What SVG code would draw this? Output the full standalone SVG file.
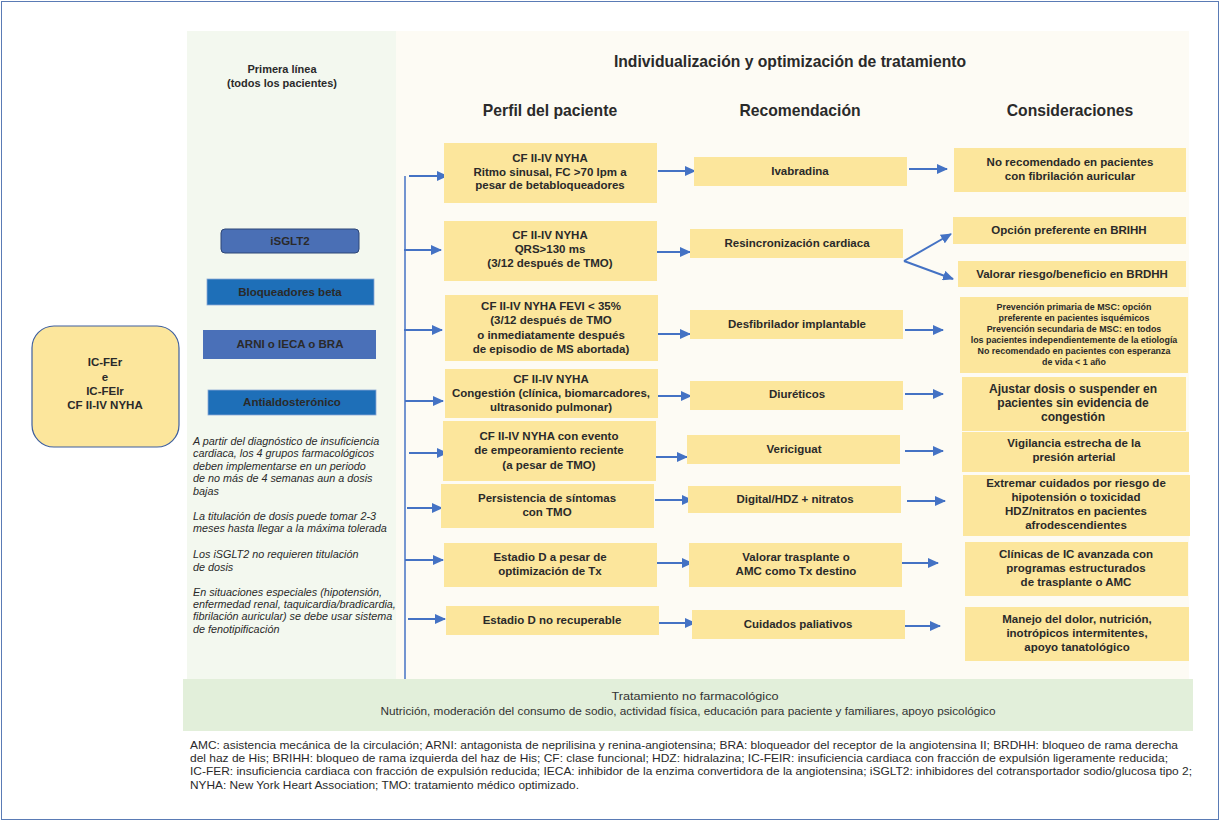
<svg xmlns="http://www.w3.org/2000/svg" width="1220" height="821" viewBox="0 0 1220 821">
<style>
text{font-family:"Liberation Sans",Arial,sans-serif;fill:#2a2a2a}
.b{font-weight:bold;font-size:11px;text-anchor:middle}
.box{fill:#fce69c}
.t{font-size:11.5px;font-weight:bold;text-anchor:middle}
.s{font-size:8.9px;font-weight:bold;text-anchor:middle}
.h{font-size:15.7px;font-weight:bold;text-anchor:middle}
.it{font-size:10.8px;font-style:italic;fill:#3a3a3a}
.arr{stroke:#4472c4;stroke-width:2;fill:none;marker-end:url(#ah)}
.fn{font-size:11px;fill:#333}
.nf{font-size:11px;fill:#333;text-anchor:middle}
</style>
<defs>
<marker id="ah" markerUnits="userSpaceOnUse" markerWidth="12" markerHeight="10" refX="10" refY="5" orient="auto">
<path d="M0,0 L11,5 L0,10 Z" fill="#4472c4"/>
</marker>
</defs>
<rect x="1.5" y="1.5" width="1217" height="818" fill="#fff" stroke="#5a7bb5" stroke-width="1"/>
<g id="panels">
<rect x="187" y="31" width="210" height="648" fill="#f3f8ef"/>
<rect x="396" y="31" width="793" height="648" fill="#fdfbf4"/>
<rect x="183" y="679" width="1010" height="52" fill="#e2efda"/>
</g>
<g id="headers">
<text class="b" x="282" y="73">Primera línea</text>
<text class="b" x="282" y="87">(todos los pacientes)</text>
<text class="h" x="790" y="67">Individualización y optimización de tratamiento</text>
<text class="h" x="550" y="116">Perfil del paciente</text>
<text class="h" x="800" y="116">Recomendación</text>
<text class="h" x="1070" y="116">Consideraciones</text>
</g>
<g id="start">
<rect x="32" y="326" width="147" height="121" rx="22" fill="#fce69c" stroke="#3e5f9e" stroke-width="1.2"/>
<text class="t" x="105" y="366">IC-FEr</text>
<text class="t" x="105" y="381">e</text>
<text class="t" x="105" y="395">IC-FElr</text>
<text class="t" x="105" y="409">CF II-IV NYHA</text>
</g>
<g id="first-line">
<g id="isglt2"><rect x="221" y="229" width="138" height="24" rx="4" fill="#4a6fb5" stroke="#2d4677" stroke-width="1"/><text class="t" x="290" y="245" fill="#1f2737">iSGLT2</text></g>
<g id="bloq"><rect x="207" y="279" width="167" height="26" fill="#1e6fb8" stroke="#8aa8d6" stroke-width="0.8"/><text class="t" x="290" y="296" fill="#1f2737">Bloqueadores beta</text></g>
<g id="arni"><rect x="203" y="330" width="173" height="29" fill="#4a70b8"/><text class="t" x="290" y="348" fill="#1f2737">ARNI o IECA o BRA</text></g>
<g id="antial"><rect x="208" y="390" width="168" height="25" fill="#1e6fb8" stroke="#8aa8d6" stroke-width="0.8"/><text class="t" x="292" y="406" fill="#1f2737">Antialdosterónico</text></g>
</g>
<g id="notes" class="it">
<text x="193" y="445">A partir del diagnóstico de insuficiencia</text>
<text x="193" y="457">cardiaca, los 4 grupos farmacológicos</text>
<text x="193" y="470">deben implementarse en un periodo</text>
<text x="193" y="482">de no más de 4 semanas aun a dosis</text>
<text x="193" y="495">bajas</text>
<text x="193" y="520">La titulación de dosis puede tomar 2-3</text>
<text x="193" y="532">meses hasta llegar a la máxima tolerada</text>
<text x="193" y="558">Los iSGLT2 no requieren titulación</text>
<text x="193" y="571">de dosis</text>
<text x="193" y="596">En situaciones especiales (hipotensión,</text>
<text x="193" y="608">enfermedad renal, taquicardia/bradicardia,</text>
<text x="193" y="620">fibrilación auricular) se debe usar sistema</text>
<text x="193" y="633">de fenotipificación</text>
</g>
<g id="connectors">
<line x1="405" y1="176" x2="405" y2="679" stroke="#4472c4" stroke-width="1.5"/>
<line class="arr" x1="409" y1="176" x2="447" y2="176"/>
<line class="arr" x1="404" y1="250" x2="441" y2="250"/>
<line class="arr" x1="404" y1="330" x2="442" y2="330"/>
<line class="arr" x1="405" y1="401" x2="443" y2="401"/>
<line class="arr" x1="409" y1="453" x2="447" y2="453"/>
<line class="arr" x1="407" y1="508" x2="442" y2="508"/>
<line class="arr" x1="405" y1="560" x2="443" y2="560"/>
<line class="arr" x1="408" y1="619" x2="445" y2="619"/>
<line class="arr" x1="658" y1="171" x2="695" y2="171"/>
<line class="arr" x1="653" y1="252" x2="690" y2="252"/>
<line class="arr" x1="654" y1="334" x2="690" y2="334"/>
<line class="arr" x1="655" y1="396" x2="691" y2="396"/>
<line class="arr" x1="649" y1="457" x2="687" y2="457"/>
<line class="arr" x1="655" y1="500" x2="692" y2="500"/>
<line class="arr" x1="654" y1="563" x2="692" y2="563"/>
<line class="arr" x1="657" y1="623" x2="695" y2="623"/>
<line class="arr" x1="909" y1="169" x2="947" y2="169"/>
<line class="arr" x1="904" y1="261" x2="951" y2="234"/>
<line class="arr" x1="904" y1="261" x2="953" y2="279"/>
<line class="arr" x1="905" y1="330" x2="943" y2="330"/>
<line class="arr" x1="905" y1="394" x2="943" y2="394"/>
<line class="arr" x1="905" y1="451" x2="943" y2="451"/>
<line class="arr" x1="907" y1="501" x2="945" y2="501"/>
<line class="arr" x1="901" y1="563" x2="938" y2="563"/>
<line class="arr" x1="902" y1="626" x2="940" y2="626"/>
</g>
<g id="p1"><rect class="box" x="444" y="143" width="213" height="60"/><text class="t" x="550" y="162">CF II-IV NYHA</text><text class="t" x="550" y="176">Ritmo sinusal, FC &gt;70 lpm a</text><text class="t" x="550" y="189">pesar de betabloqueadores</text></g>
<g id="p2"><rect class="box" x="444" y="221" width="213" height="60"/><text class="t" x="550" y="239">CF II-IV NYHA</text><text class="t" x="550" y="253">QRS&gt;130 ms</text><text class="t" x="550" y="267">(3/12 después de TMO)</text></g>
<g id="p3"><rect class="box" x="445" y="295" width="213" height="66"/><text class="t" x="551" y="310">CF II-IV NYHA FEVI &lt; 35%</text><text class="t" x="551" y="324">(3/12 después de TMO</text><text class="t" x="551" y="339">o inmediatamente después</text><text class="t" x="551" y="353">de episodio de MS abortada)</text></g>
<g id="p4"><rect class="box" x="445" y="369" width="213" height="49"/><text class="t" x="551" y="383">CF II-IV NYHA</text><text class="t" x="551" y="397">Congestión (clínica, biomarcadores,</text><text class="t" x="551" y="411">ultrasonido pulmonar)</text></g>
<g id="p5"><rect class="box" x="443" y="421" width="213" height="60"/><text class="t" x="549" y="440">CF II-IV NYHA con evento</text><text class="t" x="549" y="454">de empeoramiento reciente</text><text class="t" x="549" y="469">(a pesar de TMO)</text></g>
<g id="p6"><rect class="box" x="441" y="484" width="213" height="44"/><text class="t" x="547" y="502">Persistencia de síntomas</text><text class="t" x="547" y="516">con TMO</text></g>
<g id="p7"><rect class="box" x="444" y="543" width="213" height="44"/><text class="t" x="550" y="561">Estadio D a pesar de</text><text class="t" x="550" y="575">optimización de Tx</text></g>
<g id="p8"><rect class="box" x="446" y="606" width="213" height="29"/><text class="t" x="552" y="624">Estadio D no recuperable</text></g>
<g id="r1"><rect class="box" x="694" y="157" width="213" height="29"/><text class="t" x="800" y="175">Ivabradina</text></g>
<g id="r2"><rect class="box" x="690" y="229" width="213" height="29"/><text class="t" x="797" y="247">Resincronización cardiaca</text></g>
<g id="r3"><rect class="box" x="690" y="310" width="213" height="29"/><text class="t" x="797" y="328">Desfibrilador implantable</text></g>
<g id="r4"><rect class="box" x="690" y="381" width="213" height="29"/><text class="t" x="797" y="398">Diuréticos</text></g>
<g id="r5"><rect class="box" x="687" y="435" width="213" height="29"/><text class="t" x="794" y="453">Vericiguat</text></g>
<g id="r6"><rect class="box" x="688" y="486" width="213" height="27"/><text class="t" x="795" y="503">Digital/HDZ + nitratos</text></g>
<g id="r7"><rect class="box" x="689" y="543" width="213" height="44"/><text class="t" x="796" y="561">Valorar trasplante o</text><text class="t" x="796" y="575">AMC como Tx destino</text></g>
<g id="r8"><rect class="box" x="692" y="610" width="213" height="29"/><text class="t" x="798" y="628">Cuidados paliativos</text></g>
<g id="c1"><rect class="box" x="954" y="148" width="232" height="44"/><text class="t" x="1070" y="166">No recomendado en pacientes</text><text class="t" x="1070" y="180">con fibrilación auricular</text></g>
<g id="c2a"><rect class="box" x="953" y="217" width="233" height="27"/><text class="t" x="1069" y="234">Opción preferente en BRIHH</text></g>
<g id="c2b"><rect class="box" x="958" y="261" width="228" height="26"/><text class="t" x="1072" y="278">Valorar riesgo/beneficio en BRDHH</text></g>
<g id="c3"><rect class="box" x="960" y="297" width="228" height="76"/>
<text class="s" x="1074" y="310">Prevención primaria de MSC:  opción</text>
<text class="s" x="1074" y="321">preferente en pacientes isquémicos</text>
<text class="s" x="1074" y="332">Prevención secundaria de MSC: en todos</text>
<text class="s" x="1074" y="343">los pacientes independientemente de la etiología</text>
<text class="s" x="1074" y="354">No recomendado en pacientes con esperanza</text>
<text class="s" x="1074" y="365">de vida &lt; 1 año</text></g>
<g id="c4"><rect class="box" x="962" y="377" width="224" height="54"/><text class="t" x="1073" y="393" style="font-size:12px">Ajustar dosis o suspender en</text><text class="t" x="1073" y="407" style="font-size:12px">pacientes sin evidencia de</text><text class="t" x="1073" y="421" style="font-size:12px">congestión</text></g>
<g id="c5"><rect class="box" x="962" y="432" width="227" height="40"/><text class="t" x="1074" y="447">Vigilancia estrecha de la</text><text class="t" x="1074" y="461">presión arterial</text></g>
<g id="c6"><rect class="box" x="963" y="475" width="227" height="61"/><text class="t" x="1076" y="487">Extremar cuidados por riesgo de</text><text class="t" x="1076" y="501">hipotensión o toxicidad</text><text class="t" x="1076" y="515">HDZ/nitratos en pacientes</text><text class="t" x="1076" y="529">afrodescendientes</text></g>
<g id="c7"><rect class="box" x="965" y="542" width="223" height="54"/><text class="t" x="1076" y="558">Clínicas de IC avanzada con</text><text class="t" x="1076" y="572">programas estructurados</text><text class="t" x="1076" y="586">de trasplante o AMC</text></g>
<g id="c8"><rect class="box" x="965" y="607" width="224" height="54"/><text class="t" x="1077" y="623">Manejo del dolor, nutrición,</text><text class="t" x="1077" y="637">inotrópicos intermitentes,</text><text class="t" x="1077" y="651">apoyo tanatológico</text></g>
<g id="nonpharm">
<text class="nf" x="695" y="700" textLength="167" lengthAdjust="spacingAndGlyphs">Tratamiento no farmacológico</text>
<text class="nf" x="688" y="715" textLength="615" lengthAdjust="spacingAndGlyphs">Nutrición, moderación del consumo de sodio, actividad física, educación para paciente y familiares, apoyo psicológico</text>
</g>
<g id="footnote" class="fn">
<text x="190" y="749" textLength="988" lengthAdjust="spacingAndGlyphs">AMC: asistencia mecánica de la circulación; ARNI: antagonista de neprilisina y renina-angiotensina; BRA: bloqueador del receptor de la angiotensina II; BRDHH: bloqueo de rama derecha</text>
<text x="190" y="762" textLength="978" lengthAdjust="spacingAndGlyphs">del haz de His; BRIHH: bloqueo de rama izquierda del haz de His; CF: clase funcional; HDZ: hidralazina; IC-FEIR: insuficiencia cardiaca con fracción de expulsión ligeramente reducida;</text>
<text x="190" y="775" textLength="1002" lengthAdjust="spacingAndGlyphs">IC-FER: insuficiencia cardiaca con fracción de expulsión reducida; IECA: inhibidor de la enzima convertidora de la angiotensina; iSGLT2: inhibidores del cotransportador sodio/glucosa tipo 2;</text>
<text x="190" y="789" textLength="389" lengthAdjust="spacingAndGlyphs">NYHA: New York Heart Association; TMO: tratamiento médico optimizado.</text>
</g>
</svg>
